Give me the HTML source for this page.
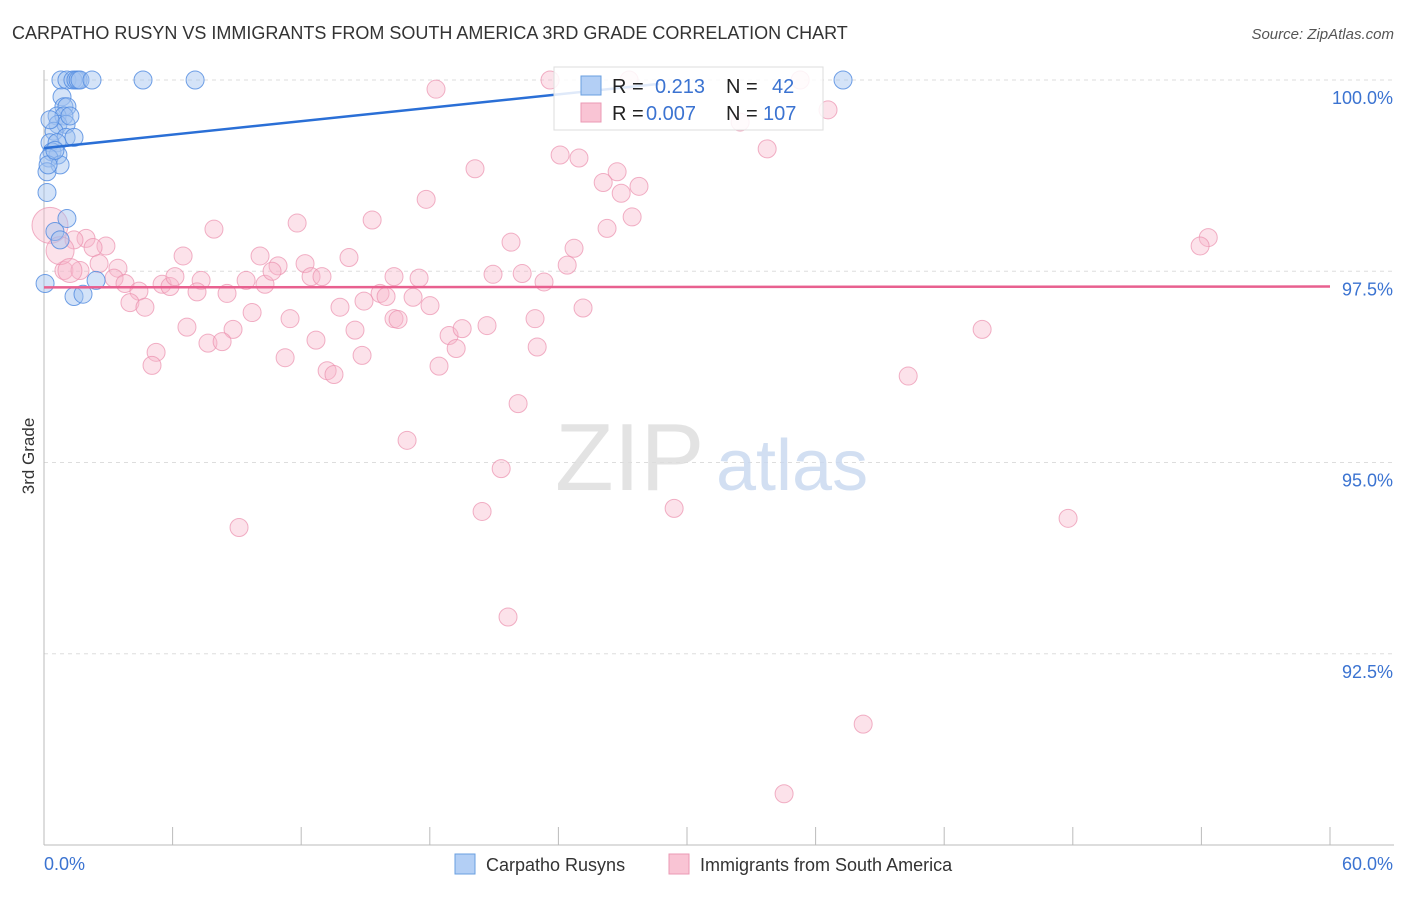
<!DOCTYPE html>
<html><head><meta charset="utf-8"><style>
body{margin:0;background:#fff;font-family:"Liberation Sans",sans-serif}
svg text{font-family:"Liberation Sans",sans-serif}
</style></head><body>
<svg id="chart" width="1406" height="892" xmlns="http://www.w3.org/2000/svg">
<text x="12" y="39" font-size="18" fill="#333">CARPATHO RUSYN VS IMMIGRANTS FROM SOUTH AMERICA 3RD GRADE CORRELATION CHART</text>
<text x="1394" y="39" font-size="15" fill="#555" text-anchor="end" font-style="italic">Source: ZipAtlas.com</text>
<text transform="translate(34,456) rotate(-90)" font-size="17" fill="#333" text-anchor="middle">3rd Grade</text>
<g id="grid"></g>
<text x="555" y="490" font-size="96" fill="#ddd" font-family="Liberation Serif" opacity="0.8">ZIP</text>
<text x="716" y="490" font-size="72" fill="#c8d8f0" opacity="0.8">atlas</text>
<g id="points"></g>
<g id="lines"></g>
<g>
<rect x="554" y="67" width="269" height="63" fill="#fff" fill-opacity="0.85" stroke="#ddd"/>
<rect x="581" y="76" width="20" height="19" fill="#b3cff5" stroke="#6a9fe0"/>
<rect x="581" y="103" width="20" height="19" fill="#f9c4d4" stroke="#eb9ab4"/>
<text x="612" y="93" font-size="20" fill="#222">R = </text><text x="655" y="93" font-size="20" fill="#3b73d1">0.213</text>
<text x="726" y="93" font-size="20" fill="#222">N = </text><text x="772" y="93" font-size="20" fill="#3b73d1">42</text>
<text x="612" y="120" font-size="20" fill="#222">R = </text><text x="646" y="120" font-size="20" fill="#3b73d1">0.007</text>
<text x="726" y="120" font-size="20" fill="#222">N = </text><text x="763" y="120" font-size="20" fill="#3b73d1">107</text>
</g>
<g>
<rect x="455" y="854" width="20" height="20" fill="#b3cff5" stroke="#6a9fe0"/>
<text x="486" y="871" font-size="18" fill="#333">Carpatho Rusyns</text>
<rect x="669" y="854" width="20" height="20" fill="#f9c4d4" stroke="#eb9ab4"/>
<text x="700" y="871" font-size="18" fill="#333">Immigrants from South America</text>
</g>
</svg>
<script>
const yTicks=[100,97.5,95,92.5];
const yTickLabels=["100.0%","97.5%","95.0%","92.5%"];
const xTicks=[0,6,12,18,24,30,36,42,48,54,60];
const blueX=[0.79,1.07,1.35,1.49,1.59,1.68,2.24,4.62,7.05,37.28,0.84,0.93,1.07,0.61,0.93,0.65,1.03,0.47,1.03,1.40,0.28,0.61,0.37,0.65,0.23,0.75,0.14,0.14,1.07,0.51,0.75,0.05,2.43,1.40,1.82,0.19,0.51,1.21,0.28];
const blueY=[100,100,100,100,100,100,100,100,100,100,99.78,99.65,99.65,99.53,99.53,99.42,99.42,99.33,99.25,99.25,99.18,99.18,99.06,99.02,98.98,98.89,98.80,98.53,98.19,98.02,97.91,97.34,97.38,97.17,97.20,98.89,99.08,99.53,99.48];
const pinkX=[23.61,27.30,35.28,18.29,36.58,32.48,24.08,24.96,33.74,20.11,26.74,26.09,27.76,26.93,17.83,27.44,11.81,15.31,7.93,26.27,54.32,53.94,21.79,24.73,6.49,10.08,14.23,12.18,10.92,1.96,1.40,2.89,2.29,0.93,1.68,2.57,3.45,3.27,3.78,4.43,4.01,4.71,5.51,5.88,6.11,7.33,7.14,9.43,10.31,10.64,12.46,12.97,16.33,17.50,20.95,22.31,23.33,24.41,8.54,15.68,15.96,17.22,18.01,14.93,13.81,9.71,11.48,6.67,8.82,7.65,8.31,12.69,14.51,16.33,16.52,18.90,19.51,20.67,22.91,25.15,5.23,5.04,11.25,14.84,19.23,23.01,18.43,13.21,13.53,43.77,40.32,22.12,16.94,21.33,20.44,29.40,47.78,9.10,21.65,38.22,34.53,0.28,0.75,1.21];
const pinkY=[100,100,100,99.88,99.61,99.45,99.02,98.98,99.10,98.84,98.80,98.66,98.61,98.52,98.44,98.21,98.13,98.17,98.05,98.06,97.94,97.83,97.88,97.80,97.70,97.70,97.68,97.60,97.57,97.93,97.91,97.83,97.81,97.51,97.51,97.60,97.54,97.41,97.34,97.24,97.09,97.03,97.33,97.30,97.43,97.38,97.23,97.38,97.33,97.50,97.43,97.43,97.43,97.41,97.46,97.47,97.36,97.58,97.21,97.21,97.17,97.16,97.05,97.11,97.03,96.96,96.88,96.77,96.74,96.56,96.58,96.60,96.73,96.88,96.87,96.66,96.75,96.79,96.88,97.02,96.44,96.27,96.37,96.40,96.49,96.51,96.26,96.20,96.15,96.74,96.13,95.77,95.29,94.92,94.36,94.40,94.27,94.15,92.98,91.58,90.67,98.10,97.77,97.51];
const pinkR=[];for(let i=0;i<pinkX.length;i++)pinkR.push(9);pinkR[pinkR.length-3]=18;pinkR[pinkR.length-2]=14;pinkR[pinkR.length-1]=12;
const blueTrend=[[0,99.11],[28.7,99.95]];
const pinkTrend=[[0,97.29],[60,97.30]];
const NS="http://www.w3.org/2000/svg";
const X0=44,X1=1330,Y0=845,Y1=80;
function sx(v){return X0+(v-0)/(60-0)*(X1-X0);}
function sy(v){return Y0-(v-90)/(100-90)*(Y0-Y1);}
function mk(t,a,p){const e=document.createElementNS(NS,t);for(const k in a)e.setAttribute(k,a[k]);p.appendChild(e);return e;}
const grid=document.getElementById('grid');
yTicks.forEach((t,i)=>{
 const l=mk('line',{x1:X0,x2:1394,y1:sy(t),y2:sy(t),stroke:'#ddd','stroke-dasharray':'4,4'},grid);
 
 
 const tx=mk('text',{x:1393,y:sy(t)+24,'font-size':18,fill:'#3b73d1','text-anchor':'end'},grid);
 tx.textContent=yTickLabels[i];
 
 
});
const ya=mk('line',{x1:X0,x2:X0,y1:70,y2:Y0,stroke:'#bbb'},grid);


const xa=mk('line',{x1:X0,x2:1394,y1:Y0,y2:Y0,stroke:'#bbb'},grid);


xTicks.forEach(t=>{const l=mk('line',{x1:sx(t),x2:sx(t),y1:827,y2:Y0,stroke:'#bbb'},grid);
 
 });
const xl0=mk('text',{x:44,y:870,'font-size':18,fill:'#3b73d1'},grid);xl0.textContent='0.0%';


const xl1=mk('text',{x:1393,y:870,'font-size':18,fill:'#3b73d1','text-anchor':'end'},grid);xl1.textContent='60.0%';


const pts=document.getElementById('points');
pinkX.forEach((v,i)=>{const c=mk('circle',{cx:sx(v),cy:sy(pinkY[i]),r:pinkR[i],fill:'#f7b6ca','fill-opacity':0.4,stroke:'#eb90ae','stroke-opacity':0.7},pts);
 
 });
blueX.forEach((v,i)=>{const c=mk('circle',{cx:sx(v),cy:sy(blueY[i]),r:9,fill:'#9fc2f0','fill-opacity':0.45,stroke:'#4f8ae0','stroke-opacity':0.8},pts);
 
 });
const ln=document.getElementById('lines');
const bl=mk('line',{x1:sx(blueTrend[0][0]),y1:sy(blueTrend[0][1]),x2:sx(blueTrend[1][0]),y2:sy(blueTrend[1][1]),stroke:'#2a6fd6','stroke-width':2.5},ln);


const pl=mk('line',{x1:sx(pinkTrend[0][0]),y1:sy(pinkTrend[0][1]),x2:sx(pinkTrend[1][0]),y2:sy(pinkTrend[1][1]),stroke:'#e8608f','stroke-width':2.5},ln);


</script>
</body></html>
